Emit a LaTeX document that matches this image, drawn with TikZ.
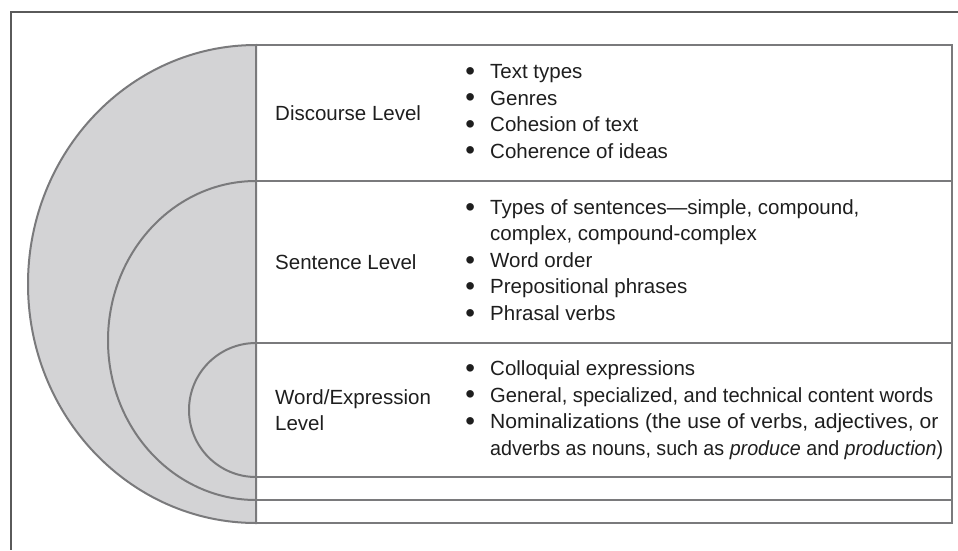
\documentclass[tikz,border=0pt]{standalone}
\usepackage{fontspec}
\usepackage{graphicx}
\setmainfont{Liberation Sans}
\definecolor{linegray}{HTML}{7A7A7C}
\definecolor{framegray}{HTML}{5A5A5A}
\definecolor{levelfill}{HTML}{D3D3D5}
\definecolor{ink}{HTML}{1E1E1E}
\newcommand\levelfont{\fontsize{20.5}{26.5}\selectfont}
% round list marker, a little larger than the font's own bullet
\newcommand\bul{\makebox[10pt]{\raisebox{-1.9pt}{\scalebox{1.35}{\textbullet}}}}
\newenvironment{bullets}{\begin{tabular}{@{}l@{\hspace{15pt}}l@{}}}{\end{tabular}}
\begin{document}
\begin{tikzpicture}[x=1pt,y=-1pt,
  rule/.style={draw=linegray, line width=2pt},
  ring/.style={draw=linegray, line width=2pt, fill=levelfill},
  lvl/.style={anchor=west, inner sep=0pt, align=left, text=ink, font=\levelfont},
  items/.style={anchor=west, inner sep=0pt, text=ink, font=\levelfont}]
\useasboundingbox (0,0) rectangle (958,550);

% open outer frame
\draw[framegray, line width=1.3pt] (958,12) -- (11,12) -- (11,550);

% nested half-ellipses for the three levels
\filldraw[ring] (256,45) arc[start angle=270, end angle=90, x radius=228, y radius=239] -- cycle;
\draw[rule] (256,181) arc[start angle=270, end angle=90, x radius=148, y radius=159.5];
\draw[rule] (256,343) arc[start angle=270, end angle=90, x radius=67, y radius=67];

% table rows
\coordinate (tl) at (256,45);
\coordinate (tr) at (952,45);
\coordinate (bl) at (256,523);
\coordinate (br) at (952,523);
\draw[rule] (tl) -- (tr) -- (br) -- (bl) -- cycle;
\foreach \y in {181,343,477,500}
  \draw[rule] (256,\y) -- (952,\y);

% level names
\node[lvl] (disc) at (275,113) {Discourse Level};
\node[lvl] (sent) at (275,262) {Sentence Level};
\node[lvl] (word) at (275,410) {Word/Expression\\Level};

% level contents
\node[items] (discitems) at (465,113) {\begin{bullets}
\bul & Text types\\
\bul & Genres\\
\bul & Cohesion of text\\
\bul & Coherence of ideas
\end{bullets}};
\node[items] (sentitems) at (465,262) {\begin{bullets}
\bul & Types of sentences—simple, compound,\\
 & complex, compound-complex\\
\bul & Word order\\
\bul & Prepositional phrases\\
\bul & Phrasal verbs
\end{bullets}};
\node[items] (worditems) at (465,410) {\begin{bullets}
\bul & Colloquial expressions\\
\bul & \scalebox{0.982}[1]{General, specialized, and technical content words}\\
\bul & \scalebox{1.03}[1]{Nominalizations (the use of verbs, adjectives, or}\\
 & \scalebox{0.96}[1]{adverbs as nouns, such as \textit{produce} and \textit{production})}
\end{bullets}};
\end{tikzpicture}
\end{document}
